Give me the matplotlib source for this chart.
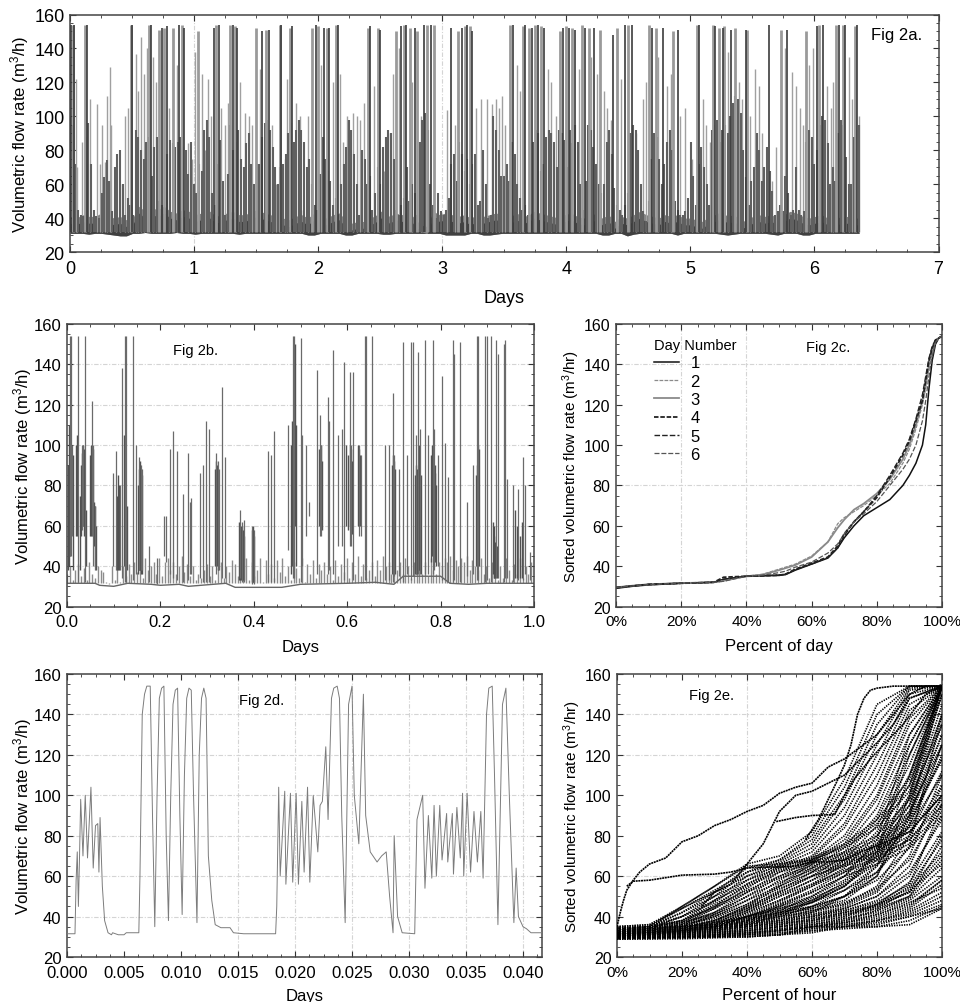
import numpy as np
import matplotlib
matplotlib.use('Agg')
import matplotlib.pyplot as plt
from matplotlib.ticker import MultipleLocator, PercentFormatter

plt.rcParams['font.family'] = ['Liberation Sans', 'DejaVu Sans']
plt.rcParams['mathtext.default'] = 'regular'

# Fig 2a: six days of flow, tall spikes, medium spikes, dense strokes, low band
a_tall_days = [0.01, 0.025, 0.035, 0.12, 0.14, 0.49, 0.5, 0.64, 0.65, 0.72, 0.74, 0.76, 0.78, 0.83, 0.88, 0.9, 0.92,
               1.03, 1.16, 1.18, 1.2, 1.29, 1.31, 1.33, 1.35, 1.5, 1.55, 1.58, 1.6, 1.69, 1.7, 1.77, 1.79,
               1.95, 1.98, 2.0, 2.05, 2.07, 2.09, 2.14, 2.16, 2.4, 2.42, 2.48, 2.5, 2.63, 2.67, 2.69, 2.71, 2.74,
               2.78, 2.8, 2.85, 2.88, 2.91, 2.93, 3.07, 3.13, 3.16, 3.18, 3.2, 3.22, 3.24, 3.55, 3.57, 3.65, 3.67,
               3.7, 3.72, 3.75, 3.77, 3.8, 3.82, 3.95, 3.97, 4.0, 4.02, 4.05, 4.07, 4.13, 4.15, 4.18, 4.22, 4.27,
               4.38, 4.41, 4.47, 4.5, 4.53, 4.67, 4.69, 4.72, 4.78, 4.86, 4.9, 5.05, 5.07, 5.18, 5.2, 5.23, 5.26,
               5.27, 5.33, 5.36, 5.45, 5.46, 5.63, 5.73, 5.78, 5.93, 6.02, 6.04, 6.07, 6.17, 6.2, 6.23, 6.25, 6.33, 6.34]
a_tall_peak = [154, 154, 154, 154, 154, 154, 154, 154, 154, 151, 152, 152, 153, 152, 154, 154, 152,
               150, 152, 154, 154, 154, 154, 153, 152, 152, 150, 151, 151, 154, 154, 152, 153,
               152, 154, 153, 152, 152, 152, 154, 154, 152, 153, 152, 151, 150, 153, 154, 154, 152,
               152, 150, 154, 154, 154, 154, 152, 150, 152, 153, 154, 153, 150, 154, 154, 153, 154,
               152, 152, 154, 154, 153, 152, 150, 152, 153, 152, 152, 151, 154, 152, 152, 152, 151,
               148, 152, 154, 154, 154, 154, 152, 152, 152, 150, 151, 154, 154, 154, 153, 152, 152,
               153, 151, 152, 151, 151, 154, 151, 151, 150, 153, 154, 154, 154, 154, 154, 154, 153, 154]
a_mid_days = [0.05, 0.06, 0.1, 0.16, 0.22, 0.24, 0.26, 0.28, 0.3, 0.32, 0.33, 0.37, 0.4, 0.44, 0.47, 0.53, 0.55, 0.57,
               0.6, 0.62, 0.67, 0.69, 0.8, 0.86, 0.95, 0.98, 1.01, 1.06, 1.09, 1.11, 1.14, 1.22, 1.25, 1.27, 1.37,
               1.41, 1.44, 1.47, 1.53, 1.63, 1.66, 1.73, 1.75, 1.82, 1.85, 1.88, 1.92, 2.02, 2.12, 2.18, 2.2, 2.23,
               2.28, 2.31, 2.34, 2.37, 2.45, 2.53, 2.56, 2.6, 2.65, 2.76, 2.83, 3.04, 3.1, 3.27, 3.31, 3.36, 3.4, 3.43,
               3.46, 3.48, 3.51, 3.6, 3.63, 3.85, 3.88, 3.92, 4.1, 4.2, 4.25, 4.3, 4.33, 4.36, 4.44, 4.56, 4.62, 4.64,
               4.74, 4.81, 4.84, 4.92, 4.96, 5.01, 5.1, 5.13, 5.16, 5.3, 5.39, 5.42, 5.48, 5.52, 5.55, 5.58, 5.66, 5.69,
               5.76, 5.82, 5.85, 5.88, 5.91, 5.96, 5.99, 6.1, 6.13, 6.15, 6.28, 6.3, 6.36]
a_mid_peak = [122, 70, 85, 110, 107, 72, 95, 73, 112, 129, 95, 68, 60, 100, 105, 137, 115, 147, 125, 140, 135, 120,
               105, 130, 84, 75, 138, 125, 80, 122, 100, 105, 95, 108, 120, 102, 100, 95, 128, 95, 60, 75, 122, 108,
               100, 45, 100, 130, 120, 125, 85, 100, 102, 100, 98, 108, 118, 68, 90, 125, 140, 120, 100, 104, 95, 105,
               110, 110, 107, 110, 105, 112, 95, 130, 115, 128, 120, 100, 128, 135, 125, 115, 105, 98, 122, 90, 110, 120,
               135, 118, 125, 100, 105, 75, 110, 95, 85, 138, 120, 110, 100, 128, 118, 90, 62, 82, 140, 126, 118, 105, 95,
               130, 140, 118, 105, 120, 135, 110, 100]
a_dense_peak = [100, 95, 72, 45, 42, 41, 88, 96, 72, 45, 41, 40, 55, 64, 74, 62, 44, 70, 78, 80,
                60, 42, 52, 48, 42, 92, 88, 80, 75, 85, 88, 65, 82, 88, 50, 48, 42, 78, 86, 84,
                82, 85, 88, 82, 80, 66, 85, 60, 55, 72, 68, 92, 98, 88, 55, 48, 72, 86, 62, 42,
                66, 95, 80, 85, 92, 75, 70, 84, 90, 72, 60, 72, 72, 88, 96, 98, 92, 82, 70, 60,
                70, 72, 78, 90, 96, 85, 92, 98, 92, 85, 70, 75, 60, 48, 45, 66, 88, 75, 68, 62,
                48, 52, 42, 60, 72, 82, 98, 92, 78, 60, 42, 80, 75, 60, 65, 45, 55, 70, 60, 82,
                88, 92, 90, 75, 45, 42, 48, 52, 70, 50, 60, 55, 42, 85, 98, 102, 92, 60, 48, 40,
                55, 44, 42, 45, 52, 72, 78, 62, 85, 78, 68, 75, 60, 72, 78, 48, 50, 80, 60, 40,
                42, 100, 92, 80, 65, 65, 72, 62, 85, 78, 60, 52, 45, 48, 42, 42, 85, 92, 90, 68,
                72, 88, 92, 90, 85, 70, 92, 90, 86, 70, 92, 84, 95, 85, 60, 45, 62, 95, 92, 82,
                72, 60, 55, 60, 85, 92, 78, 58, 48, 45, 42, 48, 55, 90, 95, 92, 80, 60, 44, 38,
                50, 75, 90, 88, 75, 60, 72, 85, 92, 80, 50, 45, 42, 42, 44, 52, 85, 65, 48, 72,
                82, 70, 60, 48, 92, 95, 98, 85, 92, 95, 90, 100, 108, 112, 110, 102, 80, 64, 48, 62,
                70, 90, 80, 62, 70, 82, 68, 56, 42, 44, 48, 44, 65, 55, 42, 45, 70, 45, 42, 44,
                85, 92, 88, 72, 80, 95, 100, 98, 84, 60, 70, 62, 90, 98, 95, 76, 60, 60, 88, 92, 95]
a_band_top = [41, 40, 42, 41, 41, 43, 42, 40, 41, 39, 40, 47, 44, 46, 45, 47, 44, 43, 45, 44, 42, 43, 45, 42, 41, 43, 44, 42, 42, 44,
              45, 43, 42, 41, 40, 39, 41, 42, 40, 43, 41, 40, 42, 43, 39, 37, 38, 38, 40, 42, 45, 41, 43, 42, 44, 40, 36, 35, 44, 42,
              43, 42, 41, 42, 40, 42, 41, 42, 43, 42, 41, 42, 43, 41, 44, 43, 42, 41, 40, 42, 43, 41, 40, 41, 43, 40, 42, 38, 41, 40,
              42, 44, 42, 41, 40, 42, 41, 42, 40, 40, 39, 38, 41, 42, 44, 41, 42, 39, 38, 41, 42, 41, 42, 40, 42, 44, 43, 41, 40, 41,
              42, 40, 42, 40, 41, 40, 40]
a_band_bot = [31, 31, 31, 30.5, 31, 31, 30.5, 30, 29.5, 29.5, 31, 31, 31.5, 31, 31, 31, 31, 31.5, 31, 31, 30.5, 31, 31, 31, 31, 31, 31, 30.5, 31, 31,
              31, 31, 31, 31, 31, 31, 31, 31, 30, 30, 31, 31, 31, 31, 30, 30, 31, 31, 31, 31, 30.5, 30.5, 31, 31, 31, 31, 31, 31, 31, 31,
              30, 30, 30, 30, 31, 31, 30, 30, 30.5, 31, 31, 31, 31, 31, 31, 31, 31, 31, 31, 31, 31, 31, 31, 31, 31, 30, 30, 31, 31, 29.5,
              30.5, 31, 31, 31, 31, 31, 31, 30, 31, 31, 31, 31, 31, 31, 30.5, 30, 30.5, 31, 31, 31, 31, 31, 30.5, 30, 31, 31, 31, 30, 30, 31,
              31, 31, 31, 31, 31, 31, 31]

# Fig 2b: first day
b_days = [0.006, 0.008, 0.01, 0.024, 0.033, 0.035, 0.038, 0.053, 0.056, 0.059, 0.098, 0.105, 0.113, 0.117, 0.124, 0.126, 0.141, 0.147,
          0.155, 0.158, 0.161, 0.176, 0.192, 0.207, 0.212, 0.22, 0.226, 0.235, 0.248, 0.259, 0.263, 0.266, 0.284, 0.291, 0.298, 0.304,
          0.32, 0.323, 0.326, 0.331, 0.338, 0.371, 0.375, 0.378, 0.397, 0.4, 0.43, 0.436, 0.444, 0.474, 0.484, 0.487, 0.501, 0.504,
          0.511, 0.519, 0.535, 0.541, 0.544, 0.558, 0.561, 0.57, 0.581, 0.588, 0.594, 0.605, 0.608, 0.612, 0.626, 0.629, 0.638, 0.641,
          0.654, 0.681, 0.689, 0.698, 0.701, 0.711, 0.72, 0.728, 0.737, 0.74, 0.747, 0.752, 0.755, 0.766, 0.773, 0.783, 0.786, 0.794,
          0.803, 0.809, 0.815, 0.826, 0.829, 0.842, 0.857, 0.869, 0.878, 0.881, 0.896, 0.899, 0.908, 0.919, 0.922, 0.935, 0.938, 0.943,
          0.955, 0.966, 0.977, 0.981, 0.992]
b_peak = [154, 154, 100, 154, 100, 100, 154, 122, 100, 70, 86, 97, 80, 138, 154, 154, 154, 100, 94, 90, 88, 50, 44, 65, 65, 98, 107, 97,
          76, 96, 72, 74, 86, 90, 112, 108, 96, 92, 88, 129, 94, 68, 62, 63, 60, 58, 97, 95, 107, 110, 154, 154, 153, 105, 100, 72,
          137, 115, 100, 124, 112, 147, 105, 108, 141, 136, 100, 136, 100, 95, 154, 154, 154, 100, 100, 126, 95, 88, 151, 95, 151, 151, 105,
          146, 108, 152, 105, 152, 108, 95, 134, 101, 84, 152, 145, 151, 72, 90, 154, 154, 154, 154, 154, 152, 145, 150, 152, 83, 80, 78,
          94, 80, 47]
b_low = [45, 45, 55, 32, 58, 60, 32, 55, 40, 38, 40, 38, 38, 34, 32, 32, 33, 36, 38, 38, 38, 32, 31, 45, 42, 36, 34, 33, 32, 33, 36, 36, 34,
         32, 32, 32, 36, 38, 38, 34, 34, 34, 32, 32, 31, 31, 32, 32, 32, 48, 34, 34, 32, 40, 55, 65, 36, 55, 55, 36, 38, 36, 50, 50, 33, 50, 50,
         33, 55, 55, 33, 33, 33, 33, 33, 32, 35, 35, 32, 36, 33, 35, 36, 36, 36, 36, 36, 36, 38, 40, 33, 33, 32, 32, 33, 32, 35, 36, 33, 33, 32,
         33, 32, 34, 34, 32, 34, 34, 32, 33, 33, 36, 33]
# dark strokes that make up the dense clusters of the trace
b_cluster_days = [0.003, 0.005, 0.012, 0.02, 0.022, 0.027, 0.03, 0.032, 0.034, 0.036, 0.04, 0.05, 0.052, 0.055, 0.058, 0.06, 0.063, 0.107, 0.109,
                  0.112, 0.122, 0.128, 0.152, 0.154, 0.156, 0.157, 0.159, 0.16, 0.316, 0.318, 0.321, 0.322, 0.324, 0.368, 0.37, 0.372, 0.374, 0.376, 0.379,
                  0.396, 0.398, 0.399, 0.401, 0.48, 0.482, 0.486, 0.488, 0.49, 0.54, 0.543, 0.546, 0.598, 0.602, 0.606, 0.609, 0.611, 0.623, 0.625, 0.627,
                  0.696, 0.699, 0.7, 0.702, 0.745, 0.748, 0.75, 0.753, 0.754, 0.757, 0.78, 0.782, 0.784, 0.785, 0.787, 0.788, 0.79, 0.875, 0.877, 0.88,
                  0.883, 0.912, 0.914, 0.915, 0.917, 0.92, 0.96, 0.963, 0.97, 0.975]
b_cluster_peak = [90, 110, 95, 100, 105, 75, 90, 96, 100, 98, 68, 95, 100, 98, 72, 70, 60, 75, 85, 80, 105, 70, 80, 88, 92, 90, 88, 85,
                  88, 92, 90, 88, 80, 62, 58, 60, 60, 58, 55, 58, 60, 58, 55, 100, 112, 145, 150, 110, 98, 100, 92, 100, 95, 100, 98, 92, 100, 98, 95,
                  90, 95, 92, 88, 85, 90, 88, 100, 95, 85, 95, 100, 92, 88, 90, 86, 80, 85, 90, 100, 98, 62, 60, 55, 52, 50, 68, 60, 55, 62]
b_cluster_low = [38, 40, 38, 55, 55, 38, 55, 60, 60, 55, 40, 55, 55, 55, 50, 40, 38, 38, 38, 38, 40, 38, 36, 38, 38, 38, 36, 36,
                 40, 40, 42, 40, 38, 33, 33, 33, 33, 33, 33, 32, 32, 32, 32, 36, 40, 60, 60, 40, 60, 62, 58, 60, 58, 60, 56, 56, 60, 60, 60,
                 36, 38, 38, 36, 36, 36, 36, 38, 38, 36, 42, 45, 45, 42, 44, 42, 40, 40, 40, 42, 40, 36, 34, 34, 34, 34, 34, 34, 34, 34]
b_small = [36, 40, 33, 38, 41, 35, 39, 33, 42, 36, 34, 40, 38, 37, 32, 31, 40, 33, 41, 32, 40, 35, 41, 36, 42, 37, 43, 34, 44, 38, 40, 42, 36, 44,
           35, 42, 44, 38, 42, 36, 40, 45, 37, 41, 35, 40, 33, 36, 34, 38, 41, 35, 40, 33, 39, 42, 34, 40, 37, 43, 41, 35, 42, 36, 44, 33, 42, 35,
           38, 44, 32, 43, 36, 41, 34, 43, 37, 44, 35, 40, 33, 42, 39, 34, 44, 32, 41, 36, 43, 34, 41, 38, 42, 36, 40, 33, 43, 35, 41, 37, 44, 34,
           42, 36, 45, 35, 41, 34, 38, 42, 35, 43, 38, 45, 40, 42, 36, 40, 38, 42, 36, 44, 40, 34, 42, 38, 41, 36, 42, 35, 44, 38, 36, 42, 40, 44,
           42, 45, 38, 43, 40, 44, 42, 45, 38, 43, 40, 38, 44, 36, 40, 34, 42, 36, 33, 40, 34, 44, 38, 33, 41, 36, 44, 34, 40, 36, 42, 34]
b_base_x = [0.0, 0.06, 0.07, 0.1, 0.13, 0.18, 0.2, 0.24, 0.26, 0.34, 0.36, 0.46, 0.5, 0.6, 0.66, 0.7, 0.72, 0.8, 0.82, 0.86, 0.9, 1.0]
b_base_y = [31.5, 31.5, 30.5, 30, 31.5, 31, 30.5, 31, 30, 31.5, 29.5, 29.5, 31, 31.5, 32, 31, 35, 35, 31.5, 31, 31.5, 31.5]

# Fig 2c: sorted curves for each day
c_pct = [0, 5, 10, 20, 30, 33, 40, 45, 50, 52, 55, 60, 65, 68, 70, 73, 76, 80, 84, 88, 90, 92, 94, 95, 96, 97, 98, 99, 100]
c_day1 = [29, 30, 30.7, 31.5, 32, 33.5, 35, 35.2, 35.4, 35.8, 38, 41, 44, 49, 54, 60, 65, 69, 73, 80, 85, 91, 100, 110, 128, 142, 150, 153, 154]
c_day2 = [29.5, 30.3, 31, 31.6, 32, 32.5, 35, 36, 38.5, 39.5, 41, 45, 52, 61, 64, 67, 70, 75, 81, 91, 98, 108, 120, 128, 138, 145, 151, 153, 154]
c_day3 = [29.5, 30.3, 31, 31.6, 32, 32.8, 35, 35.8, 38, 39, 40.5, 44.5, 52, 59, 63, 68, 71, 76, 83, 93, 100, 110, 122, 130, 140, 147, 152, 153, 154]
c_day4 = [29.3, 30.2, 30.9, 31.5, 32, 34.5, 35, 35.2, 35.5, 36, 38.5, 41.5, 44.5, 50, 56, 62, 67, 74, 84, 95, 102, 112, 122, 132, 142, 148, 152, 153, 154]
c_day5 = [29.4, 30.2, 31, 31.5, 32, 33.5, 35, 35.3, 35.6, 36, 38.3, 41, 44.3, 49, 55, 62, 67, 75, 85, 96, 103, 113, 125, 134, 143, 149, 152, 153, 154]
c_day6 = [29.4, 30.2, 30.9, 31.6, 32, 32.5, 35, 35.5, 36.8, 37.5, 39.5, 42, 46.5, 51, 56, 62, 66, 72, 80, 88, 93, 100, 112, 122, 134, 144, 151, 153, 154]
c_labels = ['1', '2', '3', '4', '5', '6']

# Fig 2d: zoom on the first hour
d_days = [0.0, 0.0007, 0.0008, 0.0009, 0.001, 0.0011, 0.0012, 0.0014, 0.0016, 0.0018, 0.0021, 0.0023, 0.0025, 0.0027, 0.0028, 0.0029,
          0.0031, 0.0033, 0.0036, 0.0039, 0.004, 0.0045, 0.005, 0.0052, 0.0063, 0.0064, 0.0066, 0.0068, 0.007, 0.0073, 0.0075, 0.0077,
          0.0079, 0.0081, 0.0083, 0.0085, 0.0087, 0.0089, 0.0091, 0.0093, 0.0095, 0.0097, 0.0099, 0.0101, 0.0103, 0.0105, 0.0107, 0.0109,
          0.0111, 0.0114, 0.0116, 0.0118, 0.012, 0.0122, 0.0124, 0.0127, 0.013, 0.0135, 0.0143, 0.0146, 0.0155,
          0.0183, 0.0184, 0.01857, 0.0187, 0.0191, 0.0192, 0.0196, 0.0198, 0.0201, 0.0203, 0.0206, 0.0208, 0.0211, 0.0213, 0.0216, 0.022, 0.0222,
          0.0224, 0.0227, 0.0229, 0.0232, 0.0234, 0.0237, 0.0239, 0.0241, 0.0244, 0.0247, 0.025, 0.0252, 0.0256, 0.026, 0.0262, 0.0266, 0.0272,
          0.0276, 0.028, 0.0283, 0.0286, 0.0287, 0.029, 0.0294, 0.0305,
          0.0307, 0.0312, 0.0314, 0.0317, 0.032, 0.0322, 0.0324, 0.0327, 0.0329, 0.0333, 0.0334, 0.0338, 0.0339, 0.0342, 0.0345, 0.0347, 0.0348,
          0.0351, 0.0354, 0.0357, 0.036, 0.0363, 0.0365, 0.0368, 0.037, 0.0373, 0.0375, 0.0378, 0.0382, 0.0385, 0.0388, 0.0392, 0.0394, 0.0396,
          0.04, 0.0403, 0.0407, 0.0417]
d_flow = [31.5, 31.5, 58, 72, 45, 70, 98, 70, 100, 69, 104, 64, 85, 86, 62, 89,
          55, 38, 32, 31, 32, 31, 31, 32, 32, 60, 140, 150, 154, 154, 90, 35,
          100, 148, 153, 154, 80, 38, 100, 145, 152, 153, 90, 41, 110, 148, 153, 152,
          100, 37, 120, 148, 153, 148, 70, 48, 36, 34.5, 34.5, 32, 31.5,
          31.5, 45, 104, 60, 102, 56, 101, 57, 101, 56, 97, 62, 104, 57, 100, 72, 95,
          97, 124, 88, 148, 153, 154, 148, 90, 37, 145, 154, 100, 76, 150, 90, 72, 67,
          70, 72, 50, 32, 80, 40, 32, 31.5,
          88, 100, 54, 90, 59, 95, 60, 95, 68, 91, 67, 91, 61, 94, 69, 101, 60,
          101, 62, 92, 67, 92, 59, 140, 153, 154, 110, 36, 145, 153, 100, 37, 64, 40,
          35, 34, 32, 32]

# Fig 2e: sorted curves for each hour
e_pct = [0, 10, 20, 30, 40, 50, 60, 70, 80, 90, 100]
e_rows = [
    [29, 29, 29, 29.5, 30, 31, 33, 34, 35, 36, 44], [29, 29, 29.5, 30, 30, 31, 32, 35, 35, 38, 45],
    [29, 29.5, 29.5, 30, 30, 31, 34, 35, 36, 40, 44], [29, 29.5, 30, 30, 31, 31, 35, 35, 37, 40, 46],
    [29.5, 29.5, 30, 30, 31, 32, 33, 35, 38, 41, 48], [29.5, 30, 30, 30.5, 31, 33, 35, 36, 38, 43, 52],
    [29.5, 30, 30, 31, 32, 33, 35, 37, 39, 44, 56], [30, 30, 30.5, 31, 32, 33, 35, 37, 40, 45, 58],
    [30, 30, 31, 31, 32, 34, 35, 38, 41, 47, 54], [30, 30.5, 31, 31, 33, 34, 36, 39, 42, 48, 60],
    [30, 31, 31, 32, 33, 35, 36, 38, 43, 49, 64], [30.5, 31, 31, 32, 33, 35, 37, 40, 44, 53, 66],
    [30.5, 31, 31.5, 32, 34, 35, 38, 41, 45, 52, 70], [31, 31, 32, 32, 34, 36, 38, 41, 44, 50, 75],
    [31, 32, 32, 33, 35, 36, 39, 42, 45, 55, 78], [31, 32, 32, 33, 35, 37, 38, 42, 46, 57, 82],
    [31, 32, 33, 34, 35, 37, 40, 43, 48, 60, 90], [31, 32, 33, 34, 36, 38, 40, 43, 47, 56, 95],
    [32, 32, 33, 34, 36, 38, 41, 44, 50, 65, 100], [32, 33, 33, 35, 36, 39, 41, 45, 52, 70, 110],
    [32, 33, 34, 35, 37, 40, 43, 46, 55, 80, 125], [32, 33, 34, 35, 37, 40, 42, 46, 53, 75, 140],
    [33, 33, 34, 35, 38, 41, 44, 48, 60, 90, 154], [33, 34, 34, 35, 38, 42, 45, 50, 60, 100, 150],
    [33, 34, 35, 36, 39, 42, 45, 50, 65, 110, 154], [33, 34, 35, 36, 40, 43, 47, 55, 70, 120, 154],
    [34, 34, 35, 36, 40, 44, 48, 55, 72, 125, 154], [35, 35, 35, 37, 40, 45, 50, 60, 78, 130, 154],
    [29, 29.3, 29.6, 30.2, 31, 32, 34, 36, 38, 42, 50], [29.2, 29.6, 30, 30.6, 31.5, 33, 35, 37, 41, 46, 58],
    [29.4, 29.8, 30.3, 31, 32, 33.5, 36, 39, 43, 50, 68], [29.6, 30.2, 30.8, 31.5, 33, 35, 37, 40, 46, 54, 72],
    [29.8, 30.4, 31.2, 32.3, 34, 36, 39, 42, 46, 52, 80], [30.2, 30.8, 31.6, 32.8, 35, 37, 40, 44, 50, 62, 88],
    [30.5, 31.2, 32.2, 33.5, 36, 39, 43, 47, 54, 68, 96], [31, 31.6, 32.6, 34, 37, 41, 44, 50, 58, 74, 104],
    [31.5, 32, 33, 35, 38, 42, 47, 53, 62, 80, 112], [32, 32.5, 33.5, 35, 39, 44, 49, 56, 66, 86, 118],
    [30, 31, 32, 35, 40, 46, 52, 60, 66, 74, 90], [30, 31, 33, 36, 42, 48, 55, 62, 68, 76, 92],
    [30, 31, 33, 37, 43, 50, 56, 63, 69, 78, 95], [30, 32, 34, 38, 44, 51, 58, 65, 70, 78, 98],
    [31, 32, 34, 38, 45, 52, 60, 65, 71, 80, 105], [31, 32, 35, 40, 46, 54, 60, 66, 72, 82, 100],
    [31, 33, 35, 41, 48, 55, 62, 66, 72, 84, 110], [31, 33, 36, 42, 50, 57, 63, 67, 73, 85, 120],
    [32, 33, 36, 44, 52, 59, 64, 68, 74, 88, 118], [32, 33, 37, 45, 53, 60, 65, 69, 75, 90, 130],
    [32, 34, 38, 46, 55, 62, 66, 70, 76, 92, 125], [32, 34, 38, 48, 56, 63, 67, 71, 78, 95, 140],
    [32, 34, 40, 50, 58, 64, 67, 72, 80, 98, 135], [33, 35, 42, 52, 60, 65, 68, 74, 84, 102, 154],
    [33, 35, 44, 53, 62, 66, 68, 75, 86, 105, 150], [33, 35, 45, 55, 65, 66, 69, 76, 88, 108, 154],
    [31, 31, 32, 33, 35, 38, 42, 50, 62, 85, 125], [31, 31, 32, 33, 36, 40, 45, 53, 65, 88, 130],
    [31, 32, 32, 34, 36, 41, 47, 55, 68, 90, 135], [31, 32, 33, 34, 37, 42, 48, 57, 70, 92, 140],
    [31, 32, 33, 34, 38, 43, 50, 58, 72, 95, 145], [31, 32, 33, 35, 38, 45, 52, 60, 74, 98, 150],
    [32, 32, 33, 35, 39, 46, 53, 62, 76, 100, 154], [32, 32, 34, 35, 40, 47, 55, 64, 80, 105, 154],
    [32, 33, 34, 36, 41, 48, 56, 66, 82, 110, 154], [32, 33, 34, 36, 42, 50, 58, 68, 85, 115, 154],
    [32, 33, 35, 37, 43, 52, 60, 70, 88, 120, 154], [33, 33, 35, 38, 44, 53, 62, 72, 90, 125, 154],
    [33, 34, 35, 38, 45, 55, 64, 74, 94, 130, 154], [33, 34, 36, 39, 46, 56, 66, 76, 98, 135, 154],
    [33, 34, 36, 40, 48, 58, 67, 78, 100, 138, 154], [33, 34, 37, 41, 50, 60, 68, 80, 105, 142, 154],
    [34, 35, 37, 42, 52, 62, 69, 84, 110, 145, 154], [34, 35, 38, 44, 54, 64, 70, 86, 115, 148, 154],
    [34, 35, 38, 45, 56, 65, 72, 90, 120, 150, 154], [34, 35, 40, 47, 58, 66, 74, 94, 125, 152, 154],
    [34, 35, 40, 48, 60, 67, 76, 98, 130, 153, 154], [34, 35, 42, 50, 62, 68, 78, 100, 135, 154, 154],
    [35, 36, 44, 52, 64, 68, 80, 104, 140, 154, 154], [35, 36, 45, 55, 66, 70, 82, 108, 145, 154, 154],
]
e_top_pct = [0, 1, 2, 3, 5, 7, 10, 15, 20, 25, 30, 35, 40, 45, 50, 55, 60, 65, 70, 75, 80, 85, 90, 95, 100]
e_top_flow = [35, 42, 48, 53, 58, 62, 66, 69, 77, 80, 85, 88, 92, 95, 101, 104, 106, 114, 118, 124, 130, 140, 150, 154, 154]
e_flat_pct = [3, 5, 10, 20, 30, 35, 40, 45, 50, 55, 60, 65, 70, 75, 80, 90, 100]
e_flat_flow = [55, 57.5, 58, 60.5, 61, 62, 64, 64.5, 64.5, 65, 67, 67, 68, 72, 75, 82, 100]
e_mid_pct = [49, 55, 60, 67, 70, 73, 78, 82, 88, 95, 100]
e_mid_flow = [87, 89, 90, 90.5, 100, 108, 118, 125, 135, 150, 154]
e_steep_pct = [26, 30, 35, 40, 45, 50, 55, 60, 65, 70, 75, 80, 85, 90, 100]
e_steep_flow = [45, 52, 56, 66, 76, 92, 100, 102, 106, 110, 118, 126, 135, 148, 154]
e_rise_pct = [58, 62, 65, 68, 70, 72, 74, 76, 78, 80, 85, 100]
e_rise_flow = [78, 88, 98, 108, 115, 125, 140, 148, 152, 153, 154, 154]

pale = '#d4d4d4'


def style_axes(ax, xminor, size, xgrid, ygrid, xsize=None):
    ax.set_ylim(20, 160)
    ax.yaxis.set_major_locator(MultipleLocator(20))
    ax.yaxis.set_minor_locator(MultipleLocator(5))
    ax.xaxis.set_minor_locator(MultipleLocator(xminor))
    ax.tick_params(which='major', direction='in', top=True, right=True, length=4, width=0.8, labelsize=size, color='#333333')
    ax.tick_params(which='minor', direction='in', top=True, right=True, length=2, width=0.6, color='#333333')
    ax.tick_params(axis='x', which='major', pad=5.5, labelsize=xsize or size)
    ax.tick_params(axis='y', which='major', pad=4)
    for spine in ax.spines.values():
        spine.set_linewidth(1.1)
        spine.set_color('#444444')
    for v in xgrid:
        ax.axvline(v, color=pale, lw=0.8, ls=(0, (4, 1.5, 1, 1.5)), zorder=0)
    for v in ygrid:
        ax.axhline(v, color=pale, lw=0.8, ls=(0, (4, 1.5, 1, 1.5)), zorder=0)


W, H = 960.0, 1003.0
fig = plt.figure(figsize=(9.6, 10.03), dpi=100)


def add_axes(left, right, top, bottom):
    return fig.add_axes([left / W, 1 - bottom / H, (right - left) / W, (bottom - top) / H])


# Fig 2a
ax = add_axes(70, 938.5, 15.5, 253)
band_x = np.linspace(0, 6.36, len(a_band_top))
dense_x = np.linspace(0, 6.36, len(a_dense_peak))
ax.fill_between(band_x, a_band_bot, a_band_top, color='#808080', lw=0, zorder=1)
ax.fill_between(band_x, a_band_bot, np.array(a_band_top) - 4, color='#404040', lw=0, zorder=1)
ax.vlines(a_mid_days, 32, a_mid_peak, color='#a0a0a0', lw=1.0, zorder=2)
ax.vlines(dense_x, 32, a_dense_peak, color='#606060', lw=1.5, zorder=2)
ax.vlines(a_tall_days[1::2], 32, a_tall_peak[1::2], color='#9a9a9a', lw=2.0, zorder=3)
ax.vlines(a_tall_days[::2], 32, a_tall_peak[::2], color='#3c3c3c', lw=1.2, zorder=3)
ax.set_xlim(0, 7)
ax.xaxis.set_major_locator(MultipleLocator(1))
style_axes(ax, 0.25, 13, [1, 3], [])
ax.set_xlabel('Days', fontsize=13, labelpad=9)
ax.set_ylabel('Volumetric flow rate (m$^3$/h)', fontsize=12, labelpad=2)
ax.text(6.66, 148.5, 'Fig 2a.', fontsize=12, ha='center', va='center')

# Fig 2b
ax = add_axes(67, 534, 325, 607.5)
ax.vlines(np.linspace(0, 1, len(b_small)), 31.5, b_small, color='#8c8c8c', lw=1.0, zorder=2)
ax.plot(b_base_x, b_base_y, color='#666666', lw=1.0, zorder=2)
ax.vlines(b_cluster_days, b_cluster_low, b_cluster_peak, color='#505050', lw=1.0, zorder=3)
ax.vlines(b_days, b_low, b_peak, color='#6a6a6a', lw=0.9, zorder=3)
ax.set_xlim(0, 1)
ax.xaxis.set_major_locator(MultipleLocator(0.2))
ax.xaxis.set_major_formatter('{x:.1f}')
style_axes(ax, 0.05, 12, [], [40, 60, 80, 100, 120, 140])
ax.set_xlabel('Days', fontsize=12, labelpad=7)
ax.set_ylabel('Volumetric flow rate (m$^3$/h)', fontsize=12, labelpad=0)
ax.text(0.276, 147, 'Fig 2b.', fontsize=10.5, ha='center', va='center')

# Fig 2c
ax = add_axes(616, 942, 325, 607.5)
c_styles = [('#111111', '-', 1.1), ('#8a8a8a', (0, (3, 1)), 0.9), ('#8a8a8a', '-', 1.3),
            ('#222222', (0, (2.5, 1)), 1.3), ('#222222', (0, (4, 1.5)), 1.0), ('#555555', (0, (4, 1.5)), 0.9)]
for vals, lab, (col, ls, lw) in zip([c_day1, c_day2, c_day3, c_day4, c_day5, c_day6], c_labels, c_styles):
    ax.plot(c_pct, vals, color=col, ls=ls, lw=lw, label=lab)
ax.set_xlim(0, 100)
ax.xaxis.set_major_locator(MultipleLocator(20))
ax.xaxis.set_major_formatter(PercentFormatter(100, decimals=0))
style_axes(ax, 5, 11.5, [20, 40], [80, 140], xsize=11)
ax.set_xlabel('Percent of day', fontsize=12, labelpad=7)
ax.set_ylabel('Sorted volumetric flow rate (m$^3$/hr)', fontsize=11, labelpad=1)
leg = ax.legend(title='Day Number', loc='upper left', bbox_to_anchor=(0.118, 0.95), frameon=False, fontsize=12,
                title_fontsize=10.5, handlelength=1.45, labelspacing=0.2, handletextpad=0.7, borderpad=0, borderaxespad=0)
leg._legend_box.align = 'left'
ax.text(65, 148.5, 'Fig 2c.', fontsize=10.5, ha='center', va='center')

# Fig 2d
ax = add_axes(67, 542, 675, 958)
ax.plot(d_days, d_flow, color='#7c7c7c', lw=0.7, zorder=3)
ax.set_xlim(0, 1 / 24)
ax.xaxis.set_major_locator(MultipleLocator(0.005))
ax.xaxis.set_major_formatter('{x:.3f}')
style_axes(ax, 0.00125, 12, [0.015, 0.02, 0.025, 0.03, 0.035, 0.04], [40, 60, 80, 100, 120, 140])
ax.set_xlabel('Days', fontsize=12, labelpad=6)
ax.set_ylabel('Volumetric flow rate (m$^3$/h)', fontsize=12, labelpad=0)
ax.text(0.0171, 147, 'Fig 2d.', fontsize=10.5, ha='center', va='center')

# Fig 2e
ax = add_axes(617, 942, 675, 958)
for row in e_rows:
    ax.plot(e_pct, row, color='black', lw=1.2, ls=(0, (0.8, 0.7)), zorder=3)
for xs, ys in [(e_top_pct, e_top_flow), (e_flat_pct, e_flat_flow), (e_mid_pct, e_mid_flow),
               (e_steep_pct, e_steep_flow), (e_rise_pct, e_rise_flow)]:
    ax.plot(xs, ys, color='black', lw=1.2, ls=(0, (1.2, 0.4)), zorder=3)
ax.set_xlim(0, 100)
ax.xaxis.set_major_locator(MultipleLocator(20))
ax.xaxis.set_major_formatter(PercentFormatter(100, decimals=0))
style_axes(ax, 5, 11.5, [40, 60], [60, 120, 140], xsize=11)
ax.set_xlabel('Percent of hour', fontsize=12, labelpad=6)
ax.set_ylabel('Sorted volumetric flow rate (m$^3$/hr)', fontsize=11, labelpad=1)
ax.text(29, 149.5, 'Fig 2e.', fontsize=10.5, ha='center', va='center')

fig.savefig('out.png', dpi=100)
